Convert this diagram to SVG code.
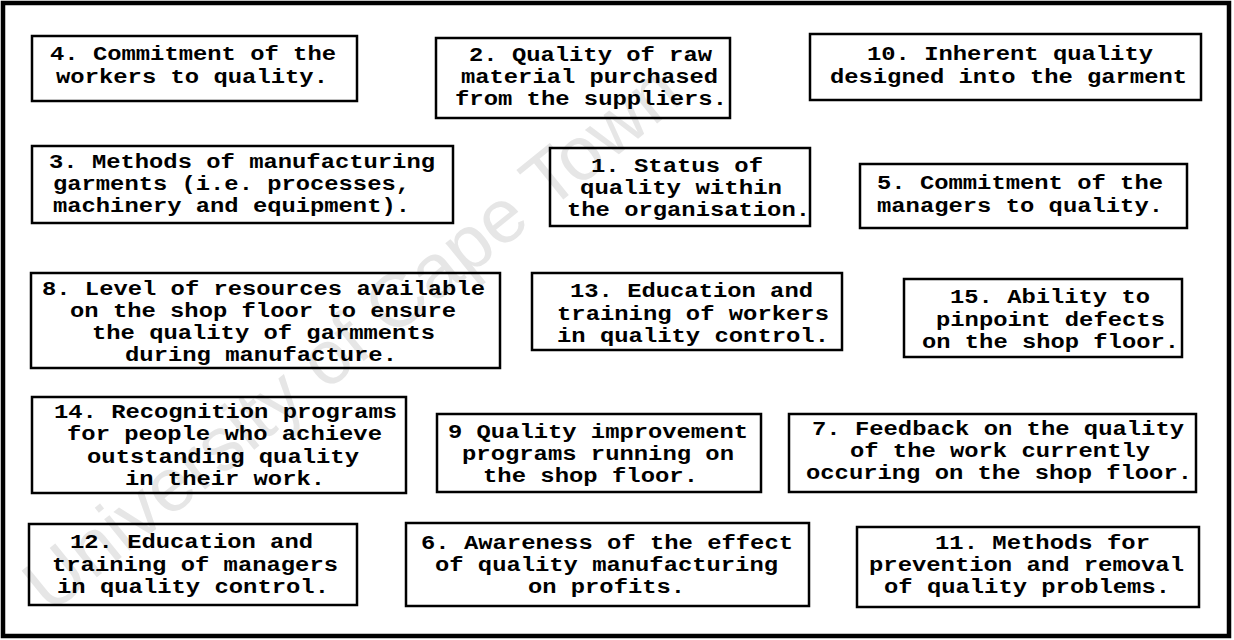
<svg xmlns="http://www.w3.org/2000/svg" width="1234" height="640" viewBox="0 0 1234 640">
<style>
.frame{fill:#fff;stroke:#000;stroke-width:4.5}
.box{fill:none;stroke:#000;stroke-width:2.5}
.t{font-family:"Liberation Mono","Courier New",monospace;font-weight:bold;font-size:19.5px;fill:#000}
.wm{font-family:"Liberation Sans",Arial,sans-serif;font-size:76px;fill:#e6e6e6}
</style>
<rect class="frame" x="3" y="3" width="1226" height="633"/>
<text class="wm" transform="translate(50,615) rotate(-39)">University of Cape Town</text>
<g id="connectors"/>
<g id="n4"><rect class="box" x="32" y="36" width="325" height="65"/>
<text class="t"><tspan x="50" y="60.4" textLength="286" lengthAdjust="spacingAndGlyphs">4. Commitment of the</tspan><tspan x="56" y="82.6" textLength="272" lengthAdjust="spacingAndGlyphs">workers to quality.</tspan></text></g>
<g id="n2"><rect class="box" x="436" y="38" width="294" height="80"/>
<text class="t"><tspan x="469" y="60.8" textLength="243" lengthAdjust="spacingAndGlyphs">2. Quality of raw</tspan><tspan x="461" y="83" textLength="257" lengthAdjust="spacingAndGlyphs">material purchased</tspan><tspan x="455" y="105.2" textLength="272" lengthAdjust="spacingAndGlyphs">from the suppliers.</tspan></text></g>
<g id="n10"><rect class="box" x="810" y="34" width="391" height="66"/>
<text class="t"><tspan x="867" y="60.4" textLength="286" lengthAdjust="spacingAndGlyphs">10. Inherent quality</tspan><tspan x="830" y="82.6" textLength="357" lengthAdjust="spacingAndGlyphs">designed into the garment</tspan></text></g>
<g id="n3"><rect class="box" x="32" y="146" width="421" height="77"/>
<text class="t"><tspan x="49" y="167.8" textLength="386" lengthAdjust="spacingAndGlyphs">3. Methods of manufacturing</tspan><tspan x="53" y="190" textLength="357" lengthAdjust="spacingAndGlyphs">garments (i.e. processes,</tspan><tspan x="53" y="212.2" textLength="357" lengthAdjust="spacingAndGlyphs">machinery and equipment).</tspan></text></g>
<g id="n1"><rect class="box" x="550" y="148" width="260" height="78"/>
<text class="t"><tspan x="591" y="171.8" textLength="172" lengthAdjust="spacingAndGlyphs">1. Status of</tspan><tspan x="580" y="194" textLength="202" lengthAdjust="spacingAndGlyphs">quality within</tspan><tspan x="567" y="216.2" textLength="243" lengthAdjust="spacingAndGlyphs">the organisation.</tspan></text></g>
<g id="n5"><rect class="box" x="860" y="164" width="327" height="64"/>
<text class="t"><tspan x="877" y="189.4" textLength="286" lengthAdjust="spacingAndGlyphs">5. Commitment of the</tspan><tspan x="877" y="211.6" textLength="286" lengthAdjust="spacingAndGlyphs">managers to quality.</tspan></text></g>
<g id="n8"><rect class="box" x="31" y="273" width="469" height="95"/>
<text class="t"><tspan x="42" y="294.7" textLength="443" lengthAdjust="spacingAndGlyphs">8. Level of resources available</tspan><tspan x="70" y="316.9" textLength="386" lengthAdjust="spacingAndGlyphs">on the shop floor to ensure</tspan><tspan x="92" y="339.1" textLength="343" lengthAdjust="spacingAndGlyphs">the quality of garmments</tspan><tspan x="125" y="361.3" textLength="272" lengthAdjust="spacingAndGlyphs">during manufacture.</tspan></text></g>
<g id="n13"><rect class="box" x="532" y="273" width="310" height="77"/>
<text class="t"><tspan x="570" y="297.3" textLength="243" lengthAdjust="spacingAndGlyphs">13. Education and</tspan><tspan x="557" y="319.5" textLength="272" lengthAdjust="spacingAndGlyphs">training of workers</tspan><tspan x="557" y="341.7" textLength="272" lengthAdjust="spacingAndGlyphs">in quality control.</tspan></text></g>
<g id="n15"><rect class="box" x="904" y="279" width="278" height="78"/>
<text class="t"><tspan x="950" y="303.3" textLength="200" lengthAdjust="spacingAndGlyphs">15. Ability to</tspan><tspan x="936" y="325.5" textLength="229" lengthAdjust="spacingAndGlyphs">pinpoint defects</tspan><tspan x="922" y="347.7" textLength="257" lengthAdjust="spacingAndGlyphs">on the shop floor.</tspan></text></g>
<g id="n14"><rect class="box" x="32" y="397" width="374" height="96"/>
<text class="t"><tspan x="54" y="418.2" textLength="343" lengthAdjust="spacingAndGlyphs">14. Recognition programs</tspan><tspan x="67" y="440.4" textLength="315" lengthAdjust="spacingAndGlyphs">for people who achieve</tspan><tspan x="87" y="462.6" textLength="272" lengthAdjust="spacingAndGlyphs">outstanding quality</tspan><tspan x="125" y="484.8" textLength="200" lengthAdjust="spacingAndGlyphs">in their work.</tspan></text></g>
<g id="n9"><rect class="box" x="437" y="414" width="324" height="78"/>
<text class="t"><tspan x="448" y="437.8" textLength="300" lengthAdjust="spacingAndGlyphs">9 Quality improvement</tspan><tspan x="462" y="460" textLength="272" lengthAdjust="spacingAndGlyphs">programs running on</tspan><tspan x="483" y="482.2" textLength="215" lengthAdjust="spacingAndGlyphs">the shop floor.</tspan></text></g>
<g id="n7"><rect class="box" x="789" y="414" width="407" height="78"/>
<text class="t"><tspan x="812" y="434.8" textLength="372" lengthAdjust="spacingAndGlyphs">7. Feedback on the quality</tspan><tspan x="850" y="457" textLength="300" lengthAdjust="spacingAndGlyphs">of the work currently</tspan><tspan x="806" y="479.2" textLength="386" lengthAdjust="spacingAndGlyphs">occuring on the shop floor.</tspan></text></g>
<g id="n12"><rect class="box" x="29" y="524" width="328" height="81"/>
<text class="t"><tspan x="70" y="548.3" textLength="243" lengthAdjust="spacingAndGlyphs">12. Education and</tspan><tspan x="52" y="570.5" textLength="286" lengthAdjust="spacingAndGlyphs">training of managers</tspan><tspan x="57" y="592.7" textLength="272" lengthAdjust="spacingAndGlyphs">in quality control.</tspan></text></g>
<g id="n6"><rect class="box" x="406" y="523" width="403" height="83"/>
<text class="t"><tspan x="421" y="548.8" textLength="372" lengthAdjust="spacingAndGlyphs">6. Awareness of the effect</tspan><tspan x="435" y="571" textLength="343" lengthAdjust="spacingAndGlyphs">of quality manufacturing</tspan><tspan x="528" y="593.2" textLength="157" lengthAdjust="spacingAndGlyphs">on profits.</tspan></text></g>
<g id="n11"><rect class="box" x="857" y="527" width="342" height="80"/>
<text class="t"><tspan x="935" y="548.8" textLength="215" lengthAdjust="spacingAndGlyphs">11. Methods for</tspan><tspan x="869" y="571" textLength="315" lengthAdjust="spacingAndGlyphs">prevention and removal</tspan><tspan x="884" y="593.2" textLength="286" lengthAdjust="spacingAndGlyphs">of quality problems.</tspan></text></g>
</svg>
